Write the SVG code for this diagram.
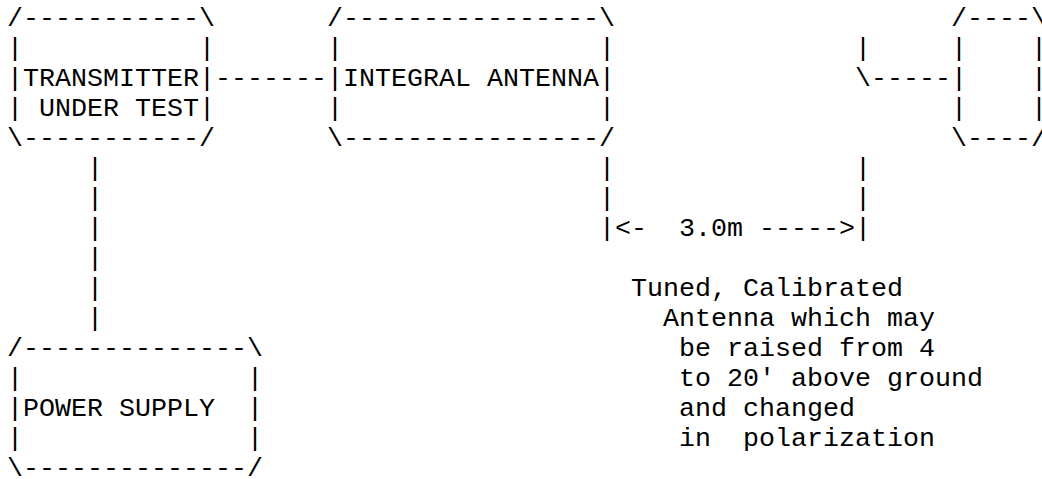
<svg xmlns="http://www.w3.org/2000/svg" width="1042" height="479" viewBox="0 0 1042 479" xml:space="preserve">
<style>
text{font-family:"Liberation Mono","Courier New",monospace;font-size:26.667px;fill:#000;white-space:pre}
</style>
<rect width="1042" height="479" fill="#fff"/>
<g id="transmitter">
<text x="7" y="26">/-----------\</text>
<text x="7" y="56">|           |</text>
<text x="7" y="86">|TRANSMITTER|</text>
<text x="7" y="116">| UNDER TEST|</text>
<text x="7" y="146">\-----------/</text>
</g>
<g id="integral-antenna">
<text x="327" y="26">/----------------\</text>
<text x="327" y="56">|                |</text>
<text x="327" y="86">|INTEGRAL ANTENNA|</text>
<text x="327" y="116">|                |</text>
<text x="327" y="146">\----------------/</text>
</g>
<g id="calibrated-antenna">
<text x="855" y="56">|</text>
<text x="855" y="86">\-----</text>
<text x="951" y="26">/----\</text>
<text x="951" y="56">|    |</text>
<text x="951" y="86">|    |</text>
<text x="951" y="116">|    |</text>
<text x="951" y="146">\----/</text>
</g>
<g id="power-supply">
<text x="7" y="356">/--------------\</text>
<text x="7" y="386">|              |</text>
<text x="7" y="416">|POWER SUPPLY  |</text>
<text x="7" y="446">|              |</text>
<text x="7" y="476">\--------------/</text>
</g>
<g id="connectors">
<text x="215" y="86">-------</text>
<text x="87" y="176">|</text>
<text x="87" y="206">|</text>
<text x="87" y="236">|</text>
<text x="87" y="266">|</text>
<text x="87" y="296">|</text>
<text x="87" y="326">|</text>
<text x="599" y="176">|</text>
<text x="599" y="206">|</text>
<text x="599" y="236">|</text>
<text x="855" y="176">|</text>
<text x="855" y="206">|</text>
<text x="855" y="236">|</text>
<text x="615" y="236">&lt;-  3.0m -----&gt;</text>
</g>
<g id="antenna-note">
<text x="631" y="296">Tuned, Calibrated</text>
<text x="663" y="326">Antenna which may</text>
<text x="679" y="356">be raised from 4</text>
<text x="679" y="386">to 20' above ground</text>
<text x="679" y="416">and changed</text>
<text x="679" y="446">in  polarization</text>
</g>
</svg>
